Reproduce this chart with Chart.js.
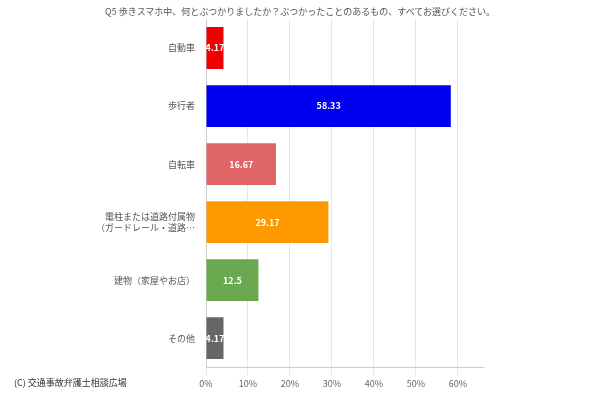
<!DOCTYPE html><html><head><meta charset="utf-8"><script src="https://cdn.jsdelivr.net/npm/chart.js@4"></script>
<style>body{margin:0;background:#fff}#w{width:600px;height:400px;position:relative}canvas{position:absolute;left:0;top:0}.c{position:absolute;left:14px;top:376px;font:9px "Noto Sans CJK JP";color:#333}.t{position:absolute;left:0;width:600px;top:5px;text-align:center;font:9px "Noto Sans CJK JP";color:#555}</style></head><body><div id="w"><canvas id="c" width="600" height="400"></canvas><div class="t">Q5 歩きスマホ中、何とぶつかりましたか？ぶつかったことのあるもの、すべてお選びください。</div><div class="c">(C) 交通事故弁護士相談広場</div></div>
<script>
const categories=["自動車","歩行者","自転車",["電柱または道路付属物","（ガードレール・道路…"],"建物（家屋やお店）","その他"];
const values=[4.17,58.33,16.67,29.17,12.5,4.17];
const colors=["#f00000","#0000f0","#e06666","#ff9900","#6aa84f","#666666"];
const xTicks=[0,10,20,30,40,50,60];
const F='"Noto Sans CJK JP"';
new Chart(document.getElementById('c'),{type:'bar',
data:{labels:categories,datasets:[{data:values,backgroundColor:colors,barPercentage:0.72,categoryPercentage:1}]},
options:{indexAxis:'y',responsive:false,animation:false,devicePixelRatio:1,
layout:{padding:{top:19,right:117,bottom:8,left:0}},
plugins:{legend:{display:false},tooltip:{enabled:false},title:{display:false}},
scales:{x:{min:0,max:66,afterBuildTicks:a=>{a.ticks=xTicks.map(v=>({value:v}))},ticks:{maxRotation:0,callback:v=>v+'%',font:{family:F,size:9},color:'#666'},grid:{color:'#e6e6e6'},border:{color:'#ccc'}},
y:{afterFit:s=>{s.width=206},ticks:{font:{family:F,size:9},color:'#555'},grid:{display:false},border:{color:'#ccc'}}}},
plugins:[{id:'lbl',afterDatasetsDraw(ch){const c=ch.ctx;c.save();c.font='bold 9px '+F;c.fillStyle='#fff';c.textAlign='center';c.textBaseline='middle';
ch.getDatasetMeta(0).data.forEach((b,i)=>{c.fillText(String(values[i]),(b.x+b.base)/2,b.y)});c.restore();}}]
});
</script></body></html>
